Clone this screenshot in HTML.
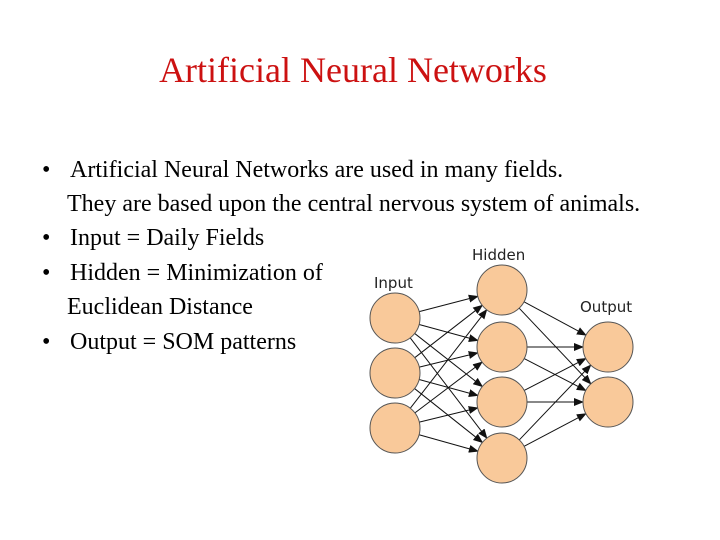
<!DOCTYPE html>
<html><head><meta charset="utf-8"><style>
html,body{margin:0;padding:0;background:#fff;}
svg{display:block;}
.b{font-family:"Liberation Serif",serif;font-size:24px;fill:#000;}
.s{font-family:"DejaVu Sans","Liberation Sans",sans-serif;font-size:15px;fill:#222;}
</style></head><body>
<svg width="720" height="540" xmlns="http://www.w3.org/2000/svg">
<defs><marker id="a" markerWidth="10" markerHeight="8" refX="9" refY="4" orient="auto" markerUnits="userSpaceOnUse"><path d="M0,0 L10,4 L0,8 z" fill="#111"/></marker></defs>
<text x="353" y="82" text-anchor="middle" font-family="Liberation Serif,serif" font-size="36" fill="#cc1111">Artificial Neural Networks</text>
<text class="b" x="42" y="177">•</text><text class="b" x="70" y="177">Artificial Neural Networks are used in many fields.</text>
<text class="b" x="67" y="211">They are based upon the central nervous system of animals.</text>
<text class="b" x="42" y="245">•</text><text class="b" x="70" y="245">Input = Daily Fields</text>
<text class="b" x="42" y="280">•</text><text class="b" x="70" y="280">Hidden = Minimization of</text>
<text class="b" x="67" y="314">Euclidean Distance</text>
<text class="b" x="42" y="349">•</text><text class="b" x="70" y="349">Output = SOM patterns</text>
<text class="s" x="374" y="288">Input</text>
<text class="s" x="472" y="260">Hidden</text>
<text class="s" x="580" y="312">Output</text>
<g stroke="#111" stroke-width="1" marker-end="url(#a)" id="lines"></g>
<g id="nodes" fill="#f9c99a" stroke="#555" stroke-width="1"></g>
<script>
var I=[[395,318],[395,373],[395,428]],H=[[502,290],[502,347],[502,402],[502,458]],O=[[608,347],[608,402]],r=25,ns="http://www.w3.org/2000/svg";
function ln(p,q){var dx=q[0]-p[0],dy=q[1]-p[1],d=Math.hypot(dx,dy),l=document.createElementNS(ns,"line");
l.setAttribute("x1",p[0]+dx/d*r);l.setAttribute("y1",p[1]+dy/d*r);l.setAttribute("x2",q[0]-dx/d*r);l.setAttribute("y2",q[1]-dy/d*r);document.getElementById("lines").appendChild(l);}
I.forEach(p=>H.forEach(q=>ln(p,q)));H.forEach(p=>O.forEach(q=>ln(p,q)));
I.concat(H,O).forEach(p=>{var c=document.createElementNS(ns,"circle");c.setAttribute("cx",p[0]);c.setAttribute("cy",p[1]);c.setAttribute("r",r);document.getElementById("nodes").appendChild(c);});
</script>
</svg>
</body></html>
